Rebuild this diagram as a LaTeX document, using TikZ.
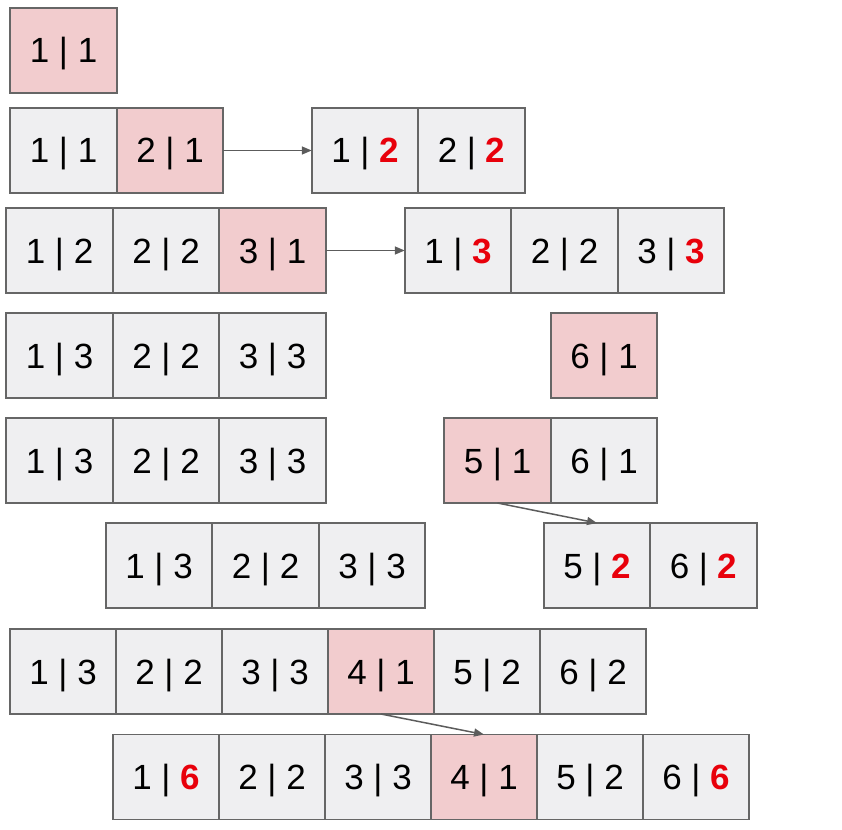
\documentclass[tikz,border=0pt]{standalone}
\usepackage{fontspec}
\setmainfont{Liberation Sans}
\usepackage{xcolor}
\usetikzlibrary{arrows.meta,positioning}

\definecolor{cellgray}{HTML}{EFEFF1}
\definecolor{cellpink}{HTML}{F2CCCE}
\definecolor{edgegray}{HTML}{666666}
\definecolor{hired}{HTML}{E8000B}

\newcommand{\hi}[1]{\textcolor{hired}{\textbf{#1}}}

\begin{document}
\begin{tikzpicture}[
    x=1pt, y=-1pt,
    font=\fontsize{35}{40}\selectfont,
    cell/.style={draw=edgegray, line width=1.8pt, fill=cellgray, outer sep=0pt,
                 minimum width=106.5pt, minimum height=85pt, inner sep=0pt,
                 text height=25pt, text depth=0pt},
    hot/.style={cell, fill=cellpink},
    link/.style={draw=edgegray!90!black, line width=1.5pt,
                 -{Triangle[length=10pt,width=8pt]}},
    ]
\useasboundingbox (0,0) rectangle (842,829);

% first element alone
\node[hot] (a1) at (63.5,50.5) {1 | 1};

% two elements, then rank update
\node[cell] (b1) at (63.5,150.5) {1 | 1};
\node[hot, right=0pt of b1] (b2) {2 | 1};
\node[cell] (bb1) at (365,150.5) {1 | \hi{2}};
\node[cell, right=0pt of bb1] (bb2) {2 | \hi{2}};
\draw[link] (b2.east) -- (bb1.west);

% three elements, then rank update
\node[cell] (c1) at (59.5,250.5) {1 | 2};
\node[cell, right=0pt of c1] (c2) {2 | 2};
\node[hot, right=0pt of c2] (c3) {3 | 1};
\node[cell] (cc1) at (458,250.5) {1 | \hi{3}};
\node[cell, right=0pt of cc1] (cc2) {2 | 2};
\node[cell, right=0pt of cc2] (cc3) {3 | \hi{3}};
\draw[link] (c3.east) -- (cc1.west);

% second set starts
\node[cell] (d1) at (59.5,355.5) {1 | 3};
\node[cell, right=0pt of d1] (d2) {2 | 2};
\node[cell, right=0pt of d2] (d3) {3 | 3};
\node[hot] (dd6) at (604,355.5) {6 | 1};

\node[cell] (e1) at (59.5,460.5) {1 | 3};
\node[cell, right=0pt of e1] (e2) {2 | 2};
\node[cell, right=0pt of e2] (e3) {3 | 3};
\node[hot] (ee5) at (497.5,460.5) {5 | 1};
\node[cell, right=0pt of ee5] (ee6) {6 | 1};

\node[cell] (f1) at (159,565.5) {1 | 3};
\node[cell, right=0pt of f1] (f2) {2 | 2};
\node[cell, right=0pt of f2] (f3) {3 | 3};
\node[cell] (ff5) at (597,565.5) {5 | \hi{2}};
\node[cell, right=0pt of ff5] (ff6) {6 | \hi{2}};
\draw[link] (ee5.south) -- (ff5.north);

% merge both sets
\tikzset{cell/.append style={minimum width=106pt}}
\node[cell] (g1) at (63,671.5) {1 | 3};
\node[cell, right=0pt of g1] (g2) {2 | 2};
\node[cell, right=0pt of g2] (g3) {3 | 3};
\node[hot, right=0pt of g3] (g4) {4 | 1};
\node[cell, right=0pt of g4] (g5) {5 | 2};
\node[cell, right=0pt of g5] (g6) {6 | 2};

\node[cell] (h1) at (166,777) {1 | \hi{6}};
\node[cell, right=0pt of h1] (h2) {2 | 2};
\node[cell, right=0pt of h2] (h3) {3 | 3};
\node[hot, right=0pt of h3] (h4) {4 | 1};
\node[cell, right=0pt of h4] (h5) {5 | 2};
\node[cell, right=0pt of h5] (h6) {6 | \hi{6}};
\draw[link] (g4.south) -- (h4.north);
\end{tikzpicture}
\end{document}
